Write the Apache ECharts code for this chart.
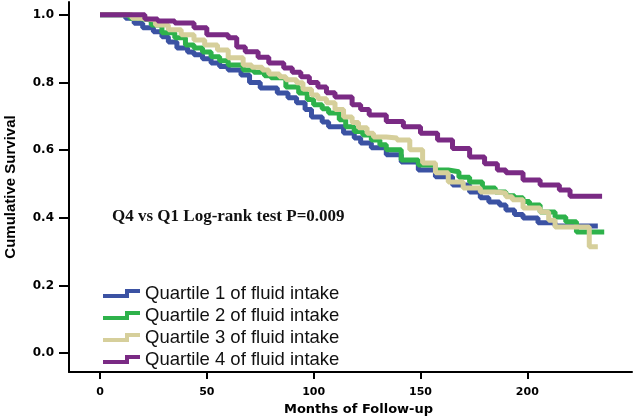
<!DOCTYPE html>
<html><head><meta charset="utf-8">
<script src="https://cdn.jsdelivr.net/npm/echarts@6/dist/echarts.min.js"></script>
<style>html,body{margin:0;padding:0;background:#fff}#c{width:636px;height:418px}</style>
</head><body><div id="c"></div>
<script>
const seriesNames = ['Quartile 1 of fluid intake','Quartile 2 of fluid intake','Quartile 3 of fluid intake','Quartile 4 of fluid intake'];
const xTicks = [0,50,100,150,200];
const yTicks = [0,0.2,0.4,0.6,0.8,1.0];
const q1 = [[0,1],[12,0.99],[16,0.975],[20,0.962],[25,0.95],[29,0.935],[32,0.92],[36,0.902],[41,0.89],[44,0.882],[48,0.87],[52,0.858],[56,0.847],[60,0.837],[66,0.822],[70,0.80],[75,0.784],[83,0.769],[88,0.755],[92,0.74],[96,0.72],[99,0.698],[104,0.683],[107,0.669],[114,0.651],[119,0.636],[122,0.621],[127,0.607],[134,0.586],[141,0.565],[149,0.541],[157,0.521],[165,0.497],[173,0.476],[178,0.459],[182,0.447],[187,0.438],[190,0.423],[194,0.41],[198,0.399],[205,0.385],[213,0.376],[233,0.376]];
const q2 = [[0,1],[14,0.99],[18,0.985],[24,0.97],[29,0.947],[35,0.932],[40,0.911],[44,0.902],[48,0.89],[52,0.876],[56,0.864],[60,0.852],[67,0.837],[72,0.83],[77,0.82],[80,0.814],[87,0.787],[93,0.769],[97,0.75],[100,0.734],[104,0.722],[107,0.71],[112,0.69],[115,0.669],[119,0.655],[123,0.645],[127,0.63],[131,0.616],[134,0.601],[141,0.571],[149,0.556],[157,0.541],[163,0.536],[168,0.52],[173,0.506],[179,0.488],[185,0.476],[190,0.465],[194,0.459],[198,0.448],[201,0.438],[206,0.417],[213,0.402],[218,0.388],[223,0.358],[236,0.358]];
const q3 = [[0,1],[15,0.99],[19,0.985],[26,0.97],[32,0.956],[38,0.941],[44,0.926],[49,0.911],[55,0.896],[60,0.873],[67,0.852],[71,0.845],[76,0.837],[79,0.825],[84,0.817],[87,0.808],[92,0.799],[95,0.78],[99,0.763],[102,0.752],[106,0.74],[110,0.72],[114,0.698],[118,0.682],[121,0.666],[125,0.65],[128,0.639],[134,0.636],[139,0.63],[145,0.601],[151,0.562],[157,0.533],[163,0.506],[170,0.488],[178,0.476],[185,0.473],[190,0.462],[193,0.453],[198,0.429],[206,0.417],[210,0.393],[213,0.373],[229,0.314],[233,0.314]];
const q4 = [[0,1],[21,0.988],[27,0.982],[35,0.976],[44,0.962],[50,0.941],[60,0.932],[64,0.905],[68,0.891],[74,0.875],[79,0.858],[86,0.843],[90,0.83],[94,0.817],[98,0.80],[102,0.787],[106,0.77],[110,0.757],[118,0.734],[122,0.72],[126,0.704],[134,0.685],[142,0.669],[150,0.65],[158,0.63],[165,0.605],[173,0.58],[180,0.56],[186,0.541],[190,0.533],[198,0.512],[206,0.497],[215,0.482],[220,0.464],[235,0.464]];
const colors = ['#3b52a3','#2eb24b','#d6cf9b','#7a2a84'];
const dataSets = [q1,q2,q3,q4];
const stepIcon = 'path://M0,5 L22,5 L22,0 L37,0 L37,4 L26,4 L26,9 L0,9 Z';

const chart = echarts.init(document.getElementById('c'), null, {renderer:'canvas'});
chart.setOption({
  animation:false,
  backgroundColor:'#fff',
  grid:{left:69,right:4,top:2,bottom:46,containLabel:false,outerBoundsMode:'none'},
  xAxis:{type:'value',min:-14.5,max:249,
    name:'Months of Follow-up',nameLocation:'middle',nameGap:31,
    nameTextStyle:{fontFamily:'DejaVu Sans',fontWeight:'bold',fontSize:13,color:'#000',padding:[0,0,0,16]},
    axisLine:{onZero:false,lineStyle:{color:'#000',width:2}},
    axisTick:{show:true,length:7,lineStyle:{color:'#000',width:2},customValues:xTicks},
    axisLabel:{fontFamily:'DejaVu Sans',fontWeight:'bold',fontSize:11,color:'#000',margin:15,customValues:xTicks},
    splitLine:{show:false}},
  yAxis:{type:'value',min:-0.056,max:1.038,
    name:'Cumulative Survival',nameLocation:'middle',nameGap:51,nameRotate:90,
    nameTextStyle:{fontFamily:'Liberation Sans',fontWeight:'bold',fontSize:15,color:'#000'},
    axisLine:{onZero:false,lineStyle:{color:'#000',width:2}},
    axisTick:{show:true,length:10,lineStyle:{color:'#000',width:2},customValues:yTicks},
    axisLabel:{fontFamily:'DejaVu Sans',fontWeight:'bold',fontSize:12,color:'#000',margin:15,customValues:yTicks,
      formatter:v=>v.toFixed(1)},
    splitLine:{show:false}},
  legend:{orient:'vertical',left:98,top:279,itemWidth:37,itemHeight:9,itemGap:3,itemTextGap:2,
    data:seriesNames.map((n,i)=>({name:n,icon:stepIcon,itemStyle:{color:colors[i]}})),
    textStyle:{fontFamily:'Liberation Sans',fontSize:18.5,color:'#111'}},
  graphic:[{type:'text',left:112,top:208,style:{text:'Q4 vs Q1 Log-rank test P=0.009',font:'bold 17px "Liberation Serif", "Times New Roman", serif',fill:'#111'}}],
  series:dataSets.map((d,i)=>({name:seriesNames[i],type:'line',step:'end',showSymbol:false,symbol:'none',
    data:d,lineStyle:{color:colors[i],width:5},itemStyle:{color:colors[i]},z:2+i}))
});
</script></body></html>
